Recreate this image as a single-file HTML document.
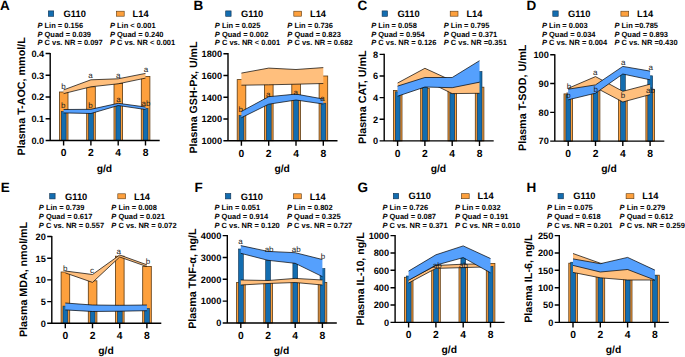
<!DOCTYPE html><html><head><meta charset="utf-8"><style>html,body{margin:0;padding:0;background:#fff;}svg{display:block;}</style></head><body>
<svg width="685" height="357" viewBox="0 0 685 357" text-rendering="geometricPrecision" font-family='"Liberation Sans", sans-serif' fill="#000">
<rect width="685" height="357" fill="#fff"/>
<rect x="48.30" y="10.90" width="5.4" height="5.4" fill="#136DB0" stroke="#0E2F4F" stroke-width="0.6"/>
<text x="63.60" y="16.90" font-size="9.3" text-anchor="start" font-weight="bold" >G110</text>
<rect x="116.40" y="11.20" width="7.8" height="5" fill="#FDA03D" stroke="#5A3810" stroke-width="0.6"/>
<text x="132.60" y="16.90" font-size="9.3" text-anchor="start" font-weight="bold" >L14</text>
<text x="37.40" y="27.80" font-size="7.5" font-weight="bold"><tspan font-style="italic">P</tspan> Lin = 0.156</text>
<text x="37.40" y="36.50" font-size="7.5" font-weight="bold"><tspan font-style="italic">P</tspan> Quad = 0.039</text>
<text x="37.40" y="45.20" font-size="7.5" font-weight="bold"><tspan font-style="italic">P</tspan> C vs. NR = 0.097</text>
<text x="109.90" y="27.80" font-size="7.5" font-weight="bold"><tspan font-style="italic">P</tspan> Lin &lt; 0.001</text>
<text x="109.90" y="36.50" font-size="7.5" font-weight="bold"><tspan font-style="italic">P</tspan> Quad = 0.240</text>
<text x="109.90" y="45.20" font-size="7.5" font-weight="bold"><tspan font-style="italic">P</tspan> C vs. NR &lt; 0.001</text>
<text x="0.00" y="10.00" font-size="13.5" text-anchor="start" font-weight="bold" >A</text>
<rect x="59.40" y="92.00" width="8.6" height="48.50" fill="#FDA03D" stroke="#5A3810" stroke-width="0.8"/>
<rect x="86.70" y="86.80" width="8.6" height="53.70" fill="#FDA03D" stroke="#5A3810" stroke-width="0.8"/>
<rect x="114.00" y="83.50" width="8.6" height="57.00" fill="#FDA03D" stroke="#5A3810" stroke-width="0.8"/>
<rect x="141.30" y="76.40" width="8.6" height="64.10" fill="#FDA03D" stroke="#5A3810" stroke-width="0.8"/>
<rect x="61.30" y="111.50" width="4.8" height="29.00" fill="#136DB0" stroke="#0E2F4F" stroke-width="0.6"/>
<rect x="88.60" y="112.00" width="4.8" height="28.50" fill="#136DB0" stroke="#0E2F4F" stroke-width="0.6"/>
<rect x="115.90" y="104.30" width="4.8" height="36.20" fill="#136DB0" stroke="#0E2F4F" stroke-width="0.6"/>
<rect x="143.20" y="108.50" width="4.8" height="32.00" fill="#136DB0" stroke="#0E2F4F" stroke-width="0.6"/>
<polygon points="63.60,89.90 90.90,79.80 118.20,78.80 145.50,73.40 145.50,78.10 118.20,83.80 90.90,86.80 63.60,93.60" fill="#FFBF7D" stroke="none"/>
<path d="M63.60,89.90 L90.90,79.80 L118.20,78.80 L145.50,73.40" fill="none" stroke="#000" stroke-width="0.7"/>
<path d="M63.60,93.60 L90.90,86.80 L118.20,83.80 L145.50,78.10" fill="none" stroke="#000" stroke-width="0.7"/>
<polygon points="63.60,109.50 90.90,109.30 118.20,103.30 145.50,107.00 145.50,109.50 118.20,105.50 90.90,113.50 63.60,112.90" fill="#55A0FD" stroke="none"/>
<path d="M63.60,109.50 L90.90,109.30 L118.20,103.30 L145.50,107.00" fill="none" stroke="#000" stroke-width="0.7"/>
<path d="M63.60,112.90 L90.90,113.50 L118.20,105.50 L145.50,109.50" fill="none" stroke="#000" stroke-width="0.7"/>
<text x="63.60" y="88.70" font-size="8" text-anchor="middle" font-weight="normal" fill="#1a1a1a">b</text>
<text x="90.60" y="78.00" font-size="8" text-anchor="middle" font-weight="normal" fill="#1a1a1a">a</text>
<text x="118.20" y="77.50" font-size="8" text-anchor="middle" font-weight="normal" fill="#1a1a1a">a</text>
<text x="146.00" y="71.50" font-size="8" text-anchor="middle" font-weight="normal" fill="#1a1a1a">a</text>
<text x="63.20" y="108.00" font-size="8" text-anchor="middle" font-weight="normal" fill="#1a1a1a">b</text>
<text x="90.60" y="107.50" font-size="8" text-anchor="middle" font-weight="normal" fill="#1a1a1a">b</text>
<text x="118.40" y="102.00" font-size="8" text-anchor="middle" font-weight="normal" fill="#1a1a1a">a</text>
<text x="146.00" y="105.50" font-size="8" text-anchor="middle" font-weight="normal" fill="#1a1a1a">ab</text>
<g stroke="#000" stroke-width="1.4" fill="none" stroke-linecap="butt">
<path d="M50.20,52.90V140.50M45.60,140.50H159.70"/>
<path d="M45.60,118.75H50.20M45.60,97.00H50.20M45.60,75.25H50.20M45.60,53.50H50.20M63.60,140.50V145.50M90.90,140.50V145.50M118.20,140.50V145.50M145.50,140.50V145.50"/>
</g>
<text x="44.20" y="143.80" font-size="9.2" text-anchor="end" font-weight="bold" >0.0</text>
<text x="44.20" y="122.05" font-size="9.2" text-anchor="end" font-weight="bold" >0.1</text>
<text x="44.20" y="100.30" font-size="9.2" text-anchor="end" font-weight="bold" >0.2</text>
<text x="44.20" y="78.55" font-size="9.2" text-anchor="end" font-weight="bold" >0.3</text>
<text x="44.20" y="56.80" font-size="9.2" text-anchor="end" font-weight="bold" >0.4</text>
<text x="63.60" y="156.30" font-size="10.3" text-anchor="middle" font-weight="bold" >0</text>
<text x="90.90" y="156.30" font-size="10.3" text-anchor="middle" font-weight="bold" >2</text>
<text x="118.20" y="156.30" font-size="10.3" text-anchor="middle" font-weight="bold" >4</text>
<text x="145.50" y="156.30" font-size="10.3" text-anchor="middle" font-weight="bold" >8</text>
<text x="104.40" y="171.50" font-size="10.3" text-anchor="middle" font-weight="bold" >g/d</text>
<text transform="translate(24.60,155.50) rotate(-90)" x="0" y="0" font-size="10.75" font-weight="bold" text-anchor="start">Plasma T-AOC, mmol/L</text>
<rect x="225.70" y="10.90" width="5.4" height="5.4" fill="#136DB0" stroke="#0E2F4F" stroke-width="0.6"/>
<text x="241.00" y="16.90" font-size="9.3" text-anchor="start" font-weight="bold" >G110</text>
<rect x="293.80" y="11.20" width="7.8" height="5" fill="#FDA03D" stroke="#5A3810" stroke-width="0.6"/>
<text x="310.00" y="16.90" font-size="9.3" text-anchor="start" font-weight="bold" >L14</text>
<text x="214.80" y="27.80" font-size="7.5" font-weight="bold"><tspan font-style="italic">P</tspan> Lin = 0.025</text>
<text x="214.80" y="36.50" font-size="7.5" font-weight="bold"><tspan font-style="italic">P</tspan> Quad = 0.002</text>
<text x="214.80" y="45.20" font-size="7.5" font-weight="bold"><tspan font-style="italic">P</tspan> C vs. NR &lt; 0.001</text>
<text x="287.30" y="27.80" font-size="7.5" font-weight="bold"><tspan font-style="italic">P</tspan> Lin = 0.736</text>
<text x="287.30" y="36.50" font-size="7.5" font-weight="bold"><tspan font-style="italic">P</tspan> Quad = 0.823</text>
<text x="287.30" y="45.20" font-size="7.5" font-weight="bold"><tspan font-style="italic">P</tspan> C vs. NR = 0.682</text>
<text x="193.40" y="10.00" font-size="13.5" text-anchor="start" font-weight="bold" >B</text>
<rect x="237.20" y="79.60" width="8.6" height="61.10" fill="#FDA03D" stroke="#5A3810" stroke-width="0.8"/>
<rect x="264.50" y="80.00" width="8.6" height="60.70" fill="#FDA03D" stroke="#5A3810" stroke-width="0.8"/>
<rect x="291.80" y="80.00" width="8.6" height="60.70" fill="#FDA03D" stroke="#5A3810" stroke-width="0.8"/>
<rect x="319.10" y="76.00" width="8.6" height="64.70" fill="#FDA03D" stroke="#5A3810" stroke-width="0.8"/>
<rect x="239.10" y="115.60" width="4.8" height="25.10" fill="#136DB0" stroke="#0E2F4F" stroke-width="0.6"/>
<rect x="266.40" y="100.00" width="4.8" height="40.70" fill="#136DB0" stroke="#0E2F4F" stroke-width="0.6"/>
<rect x="293.70" y="97.00" width="4.8" height="43.70" fill="#136DB0" stroke="#0E2F4F" stroke-width="0.6"/>
<rect x="321.00" y="103.20" width="4.8" height="37.50" fill="#136DB0" stroke="#0E2F4F" stroke-width="0.6"/>
<polygon points="241.40,73.10 268.70,68.10 296.00,69.50 323.30,67.60 323.30,83.50 296.00,84.20 268.70,84.80 241.40,85.20" fill="#FFBF7D" stroke="none"/>
<path d="M241.40,73.10 L268.70,68.10 L296.00,69.50 L323.30,67.60" fill="none" stroke="#000" stroke-width="0.7"/>
<path d="M241.40,85.20 L268.70,84.80 L296.00,84.20 L323.30,83.50" fill="none" stroke="#000" stroke-width="0.7"/>
<polygon points="241.40,111.40 268.70,96.70 296.00,94.10 323.30,99.00 323.30,104.00 296.00,100.00 268.70,104.20 241.40,117.70" fill="#55A0FD" stroke="none"/>
<path d="M241.40,111.40 L268.70,96.70 L296.00,94.10 L323.30,99.00" fill="none" stroke="#000" stroke-width="0.7"/>
<path d="M241.40,117.70 L268.70,104.20 L296.00,100.00 L323.30,104.00" fill="none" stroke="#000" stroke-width="0.7"/>
<text x="240.70" y="111.50" font-size="8" text-anchor="middle" font-weight="normal" fill="#1a1a1a">b</text>
<text x="268.20" y="96.50" font-size="8" text-anchor="middle" font-weight="normal" fill="#1a1a1a">a</text>
<text x="295.80" y="95.00" font-size="8" text-anchor="middle" font-weight="normal" fill="#1a1a1a">a</text>
<text x="322.60" y="100.50" font-size="8" text-anchor="middle" font-weight="normal" fill="#1a1a1a">a</text>
<g stroke="#000" stroke-width="1.4" fill="none" stroke-linecap="butt">
<path d="M228.00,53.10V140.70M223.40,140.70H337.50"/>
<path d="M223.40,118.95H228.00M223.40,97.20H228.00M223.40,75.45H228.00M223.40,53.70H228.00M241.40,140.70V145.70M268.70,140.70V145.70M296.00,140.70V145.70M323.30,140.70V145.70"/>
</g>
<text x="222.00" y="144.00" font-size="9.2" text-anchor="end" font-weight="bold" >1000</text>
<text x="222.00" y="122.25" font-size="9.2" text-anchor="end" font-weight="bold" >1200</text>
<text x="222.00" y="100.50" font-size="9.2" text-anchor="end" font-weight="bold" >1400</text>
<text x="222.00" y="78.75" font-size="9.2" text-anchor="end" font-weight="bold" >1600</text>
<text x="222.00" y="57.00" font-size="9.2" text-anchor="end" font-weight="bold" >1800</text>
<text x="241.40" y="156.50" font-size="10.3" text-anchor="middle" font-weight="bold" >0</text>
<text x="268.70" y="156.50" font-size="10.3" text-anchor="middle" font-weight="bold" >2</text>
<text x="296.00" y="156.50" font-size="10.3" text-anchor="middle" font-weight="bold" >4</text>
<text x="323.30" y="156.50" font-size="10.3" text-anchor="middle" font-weight="bold" >8</text>
<text x="282.20" y="171.70" font-size="10.3" text-anchor="middle" font-weight="bold" >g/d</text>
<text transform="translate(197.10,153.50) rotate(-90)" x="0" y="0" font-size="10.62" font-weight="bold" text-anchor="start">Plasma GSH-Px, U/mL</text>
<rect x="382.10" y="10.90" width="5.4" height="5.4" fill="#136DB0" stroke="#0E2F4F" stroke-width="0.6"/>
<text x="397.40" y="16.90" font-size="9.3" text-anchor="start" font-weight="bold" >G110</text>
<rect x="450.20" y="11.20" width="7.8" height="5" fill="#FDA03D" stroke="#5A3810" stroke-width="0.6"/>
<text x="466.40" y="16.90" font-size="9.3" text-anchor="start" font-weight="bold" >L14</text>
<text x="371.20" y="27.80" font-size="7.5" font-weight="bold"><tspan font-style="italic">P</tspan> Lin = 0.058</text>
<text x="371.20" y="36.50" font-size="7.5" font-weight="bold"><tspan font-style="italic">P</tspan> Quad = 0.954</text>
<text x="371.20" y="45.20" font-size="7.5" font-weight="bold"><tspan font-style="italic">P</tspan> C vs. NR = 0.126</text>
<text x="443.70" y="27.80" font-size="7.5" font-weight="bold"><tspan font-style="italic">P</tspan> Lin = 0.795</text>
<text x="443.70" y="36.50" font-size="7.5" font-weight="bold"><tspan font-style="italic">P</tspan> Quad = 0.371</text>
<text x="443.70" y="45.20" font-size="7.5" font-weight="bold"><tspan font-style="italic">P</tspan> C vs. NR =0.351</text>
<text x="357.40" y="10.00" font-size="13.5" text-anchor="start" font-weight="bold" >C</text>
<rect x="393.40" y="90.40" width="8.6" height="50.50" fill="#FDA03D" stroke="#5A3810" stroke-width="0.8"/>
<rect x="420.70" y="88.30" width="8.6" height="52.60" fill="#FDA03D" stroke="#5A3810" stroke-width="0.8"/>
<rect x="448.00" y="91.00" width="8.6" height="49.90" fill="#FDA03D" stroke="#5A3810" stroke-width="0.8"/>
<rect x="475.30" y="87.20" width="8.6" height="53.70" fill="#FDA03D" stroke="#5A3810" stroke-width="0.8"/>
<rect x="395.30" y="91.80" width="4.8" height="49.10" fill="#136DB0" stroke="#0E2F4F" stroke-width="0.6"/>
<rect x="422.60" y="87.20" width="4.8" height="53.70" fill="#136DB0" stroke="#0E2F4F" stroke-width="0.6"/>
<rect x="449.90" y="93.60" width="4.8" height="47.30" fill="#136DB0" stroke="#0E2F4F" stroke-width="0.6"/>
<rect x="477.20" y="71.50" width="4.8" height="69.40" fill="#136DB0" stroke="#0E2F4F" stroke-width="0.6"/>
<polygon points="397.60,83.00 424.90,68.30 452.20,80.80 479.50,82.00 479.50,93.30 452.20,93.60 424.90,80.20 397.60,92.00" fill="#FFBF7D" stroke="none"/>
<path d="M397.60,83.00 L424.90,68.30 L452.20,80.80 L479.50,82.00" fill="none" stroke="#000" stroke-width="0.7"/>
<path d="M397.60,92.00 L424.90,80.20 L452.20,93.60 L479.50,93.30" fill="none" stroke="#000" stroke-width="0.7"/>
<polygon points="397.60,86.10 424.90,77.50 452.20,77.50 479.50,60.70 479.50,82.20 452.20,87.70 424.90,87.00 397.60,96.20" fill="#55A0FD" stroke="none"/>
<path d="M397.60,86.10 L424.90,77.50 L452.20,77.50 L479.50,60.70" fill="none" stroke="#000" stroke-width="0.7"/>
<path d="M397.60,96.20 L424.90,87.00 L452.20,87.70 L479.50,82.20" fill="none" stroke="#000" stroke-width="0.7"/>
<g stroke="#000" stroke-width="1.4" fill="none" stroke-linecap="butt">
<path d="M384.20,53.80V140.90M379.60,140.90H493.70"/>
<path d="M379.60,119.28H384.20M379.60,97.65H384.20M379.60,76.03H384.20M379.60,54.40H384.20M397.60,140.90V145.90M424.90,140.90V145.90M452.20,140.90V145.90M479.50,140.90V145.90"/>
</g>
<text x="378.20" y="144.20" font-size="9.2" text-anchor="end" font-weight="bold" >0</text>
<text x="378.20" y="122.58" font-size="9.2" text-anchor="end" font-weight="bold" >2</text>
<text x="378.20" y="100.95" font-size="9.2" text-anchor="end" font-weight="bold" >4</text>
<text x="378.20" y="79.33" font-size="9.2" text-anchor="end" font-weight="bold" >6</text>
<text x="378.20" y="57.70" font-size="9.2" text-anchor="end" font-weight="bold" >8</text>
<text x="397.60" y="156.70" font-size="10.3" text-anchor="middle" font-weight="bold" >0</text>
<text x="424.90" y="156.70" font-size="10.3" text-anchor="middle" font-weight="bold" >2</text>
<text x="452.20" y="156.70" font-size="10.3" text-anchor="middle" font-weight="bold" >4</text>
<text x="479.50" y="156.70" font-size="10.3" text-anchor="middle" font-weight="bold" >8</text>
<text x="438.40" y="171.90" font-size="10.3" text-anchor="middle" font-weight="bold" >g/d</text>
<text transform="translate(365.50,144.00) rotate(-90)" x="0" y="0" font-size="10.75" font-weight="bold" text-anchor="start">Plasma CAT, U/mL</text>
<rect x="552.80" y="10.90" width="5.4" height="5.4" fill="#136DB0" stroke="#0E2F4F" stroke-width="0.6"/>
<text x="568.10" y="16.90" font-size="9.3" text-anchor="start" font-weight="bold" >G110</text>
<rect x="620.90" y="11.20" width="7.8" height="5" fill="#FDA03D" stroke="#5A3810" stroke-width="0.6"/>
<text x="637.10" y="16.90" font-size="9.3" text-anchor="start" font-weight="bold" >L14</text>
<text x="541.90" y="27.80" font-size="7.5" font-weight="bold"><tspan font-style="italic">P</tspan> Lin = 0.003</text>
<text x="541.90" y="36.50" font-size="7.5" font-weight="bold"><tspan font-style="italic">P</tspan> Quad = 0.034</text>
<text x="541.90" y="45.20" font-size="7.5" font-weight="bold"><tspan font-style="italic">P</tspan> C vs. NR = 0.004</text>
<text x="614.40" y="27.80" font-size="7.5" font-weight="bold"><tspan font-style="italic">P</tspan> Lin =0.785</text>
<text x="614.40" y="36.50" font-size="7.5" font-weight="bold"><tspan font-style="italic">P</tspan> Quad = 0.893</text>
<text x="614.40" y="45.20" font-size="7.5" font-weight="bold"><tspan font-style="italic">P</tspan> C vs. NR =0.430</text>
<text x="526.60" y="10.00" font-size="13.5" text-anchor="start" font-weight="bold" >D</text>
<rect x="564.00" y="93.90" width="8.6" height="47.20" fill="#FDA03D" stroke="#5A3810" stroke-width="0.8"/>
<rect x="591.30" y="82.00" width="8.6" height="59.10" fill="#FDA03D" stroke="#5A3810" stroke-width="0.8"/>
<rect x="618.60" y="96.00" width="8.6" height="45.10" fill="#FDA03D" stroke="#5A3810" stroke-width="0.8"/>
<rect x="645.90" y="89.30" width="8.6" height="51.80" fill="#FDA03D" stroke="#5A3810" stroke-width="0.8"/>
<rect x="565.90" y="94.70" width="4.8" height="46.40" fill="#136DB0" stroke="#0E2F4F" stroke-width="0.6"/>
<rect x="593.20" y="89.00" width="4.8" height="52.10" fill="#136DB0" stroke="#0E2F4F" stroke-width="0.6"/>
<rect x="620.50" y="70.20" width="4.8" height="70.90" fill="#136DB0" stroke="#0E2F4F" stroke-width="0.6"/>
<rect x="647.80" y="75.80" width="4.8" height="65.30" fill="#136DB0" stroke="#0E2F4F" stroke-width="0.6"/>
<polygon points="568.20,88.30 595.50,76.60 622.80,91.30 650.10,84.20 650.10,94.60 622.80,102.00 595.50,87.50 568.20,98.00" fill="#FFBF7D" stroke="none"/>
<path d="M568.20,88.30 L595.50,76.60 L622.80,91.30 L650.10,84.20" fill="none" stroke="#000" stroke-width="0.7"/>
<path d="M568.20,98.00 L595.50,87.50 L622.80,102.00 L650.10,94.60" fill="none" stroke="#000" stroke-width="0.7"/>
<polygon points="568.20,89.20 595.50,84.90 622.80,66.40 650.10,71.10 650.10,79.80 622.80,74.00 595.50,93.20 568.20,99.80" fill="#55A0FD" stroke="none"/>
<path d="M568.20,89.20 L595.50,84.90 L622.80,66.40 L650.10,71.10" fill="none" stroke="#000" stroke-width="0.7"/>
<path d="M568.20,99.80 L595.50,93.20 L622.80,74.00 L650.10,79.80" fill="none" stroke="#000" stroke-width="0.7"/>
<text x="568.90" y="89.30" font-size="8" text-anchor="middle" font-weight="normal" fill="#1a1a1a">b</text>
<text x="568.60" y="98.00" font-size="8" text-anchor="middle" font-weight="normal" fill="#1a1a1a">b</text>
<text x="595.20" y="74.90" font-size="8" text-anchor="middle" font-weight="normal" fill="#1a1a1a">a</text>
<text x="595.70" y="92.40" font-size="8" text-anchor="middle" font-weight="normal" fill="#1a1a1a">b</text>
<text x="623.30" y="65.00" font-size="8" text-anchor="middle" font-weight="normal" fill="#1a1a1a">a</text>
<text x="623.00" y="98.40" font-size="8" text-anchor="middle" font-weight="normal" fill="#1a1a1a">b</text>
<text x="650.80" y="70.40" font-size="8" text-anchor="middle" font-weight="normal" fill="#1a1a1a">a</text>
<text x="650.50" y="92.90" font-size="8" text-anchor="middle" font-weight="normal" fill="#1a1a1a">ab</text>
<g stroke="#000" stroke-width="1.4" fill="none" stroke-linecap="butt">
<path d="M554.80,54.20V141.10M550.20,141.10H664.30"/>
<path d="M550.20,112.33H554.80M550.20,83.57H554.80M550.20,54.80H554.80M568.20,141.10V146.10M595.50,141.10V146.10M622.80,141.10V146.10M650.10,141.10V146.10"/>
</g>
<text x="548.80" y="144.40" font-size="9.2" text-anchor="end" font-weight="bold" >70</text>
<text x="548.80" y="115.63" font-size="9.2" text-anchor="end" font-weight="bold" >80</text>
<text x="548.80" y="86.87" font-size="9.2" text-anchor="end" font-weight="bold" >90</text>
<text x="548.80" y="58.10" font-size="9.2" text-anchor="end" font-weight="bold" >100</text>
<text x="568.20" y="156.90" font-size="10.3" text-anchor="middle" font-weight="bold" >0</text>
<text x="595.50" y="156.90" font-size="10.3" text-anchor="middle" font-weight="bold" >2</text>
<text x="622.80" y="156.90" font-size="10.3" text-anchor="middle" font-weight="bold" >4</text>
<text x="650.10" y="156.90" font-size="10.3" text-anchor="middle" font-weight="bold" >8</text>
<text x="609.00" y="172.10" font-size="10.3" text-anchor="middle" font-weight="bold" >g/d</text>
<text transform="translate(526.00,151.00) rotate(-90)" x="0" y="0" font-size="10.75" font-weight="bold" text-anchor="start">Plasma T-SOD, U/mL</text>
<rect x="49.70" y="193.50" width="5.4" height="5.4" fill="#136DB0" stroke="#0E2F4F" stroke-width="0.6"/>
<text x="65.00" y="199.50" font-size="9.3" text-anchor="start" font-weight="bold" >G110</text>
<rect x="117.80" y="193.80" width="7.8" height="5" fill="#FDA03D" stroke="#5A3810" stroke-width="0.6"/>
<text x="134.00" y="199.50" font-size="9.3" text-anchor="start" font-weight="bold" >L14</text>
<text x="38.80" y="210.40" font-size="7.5" font-weight="bold"><tspan font-style="italic">P</tspan> Lin = 0.739</text>
<text x="38.80" y="219.10" font-size="7.5" font-weight="bold"><tspan font-style="italic">P</tspan> Quad = 0.617</text>
<text x="38.80" y="227.80" font-size="7.5" font-weight="bold"><tspan font-style="italic">P</tspan> C vs. NR = 0.557</text>
<text x="111.30" y="210.40" font-size="7.5" font-weight="bold"><tspan font-style="italic">P</tspan> Lin = 0.008</text>
<text x="111.30" y="219.10" font-size="7.5" font-weight="bold"><tspan font-style="italic">P</tspan> Quad = 0.021</text>
<text x="111.30" y="227.80" font-size="7.5" font-weight="bold"><tspan font-style="italic">P</tspan> C vs. NR = 0.072</text>
<text x="0.80" y="192.00" font-size="13.5" text-anchor="start" font-weight="bold" >E</text>
<rect x="61.10" y="272.00" width="8.6" height="51.30" fill="#FDA03D" stroke="#5A3810" stroke-width="0.8"/>
<rect x="88.30" y="280.80" width="8.6" height="42.50" fill="#FDA03D" stroke="#5A3810" stroke-width="0.8"/>
<rect x="115.50" y="256.20" width="8.6" height="67.10" fill="#FDA03D" stroke="#5A3810" stroke-width="0.8"/>
<rect x="142.70" y="266.40" width="8.6" height="56.90" fill="#FDA03D" stroke="#5A3810" stroke-width="0.8"/>
<rect x="63.00" y="306.10" width="4.8" height="17.20" fill="#136DB0" stroke="#0E2F4F" stroke-width="0.6"/>
<rect x="90.20" y="311.40" width="4.8" height="11.90" fill="#136DB0" stroke="#0E2F4F" stroke-width="0.6"/>
<rect x="117.40" y="311.00" width="4.8" height="12.30" fill="#136DB0" stroke="#0E2F4F" stroke-width="0.6"/>
<rect x="144.60" y="308.40" width="4.8" height="14.90" fill="#136DB0" stroke="#0E2F4F" stroke-width="0.6"/>
<polygon points="65.30,271.00 92.50,274.50 119.70,255.00 146.90,264.80 146.90,266.60 119.70,257.00 92.50,282.40 65.30,272.90" fill="#FFBF7D" stroke="none"/>
<path d="M65.30,271.00 L92.50,274.50 L119.70,255.00 L146.90,264.80" fill="none" stroke="#000" stroke-width="0.7"/>
<path d="M65.30,272.90 L92.50,282.40 L119.70,257.00 L146.90,266.60" fill="none" stroke="#000" stroke-width="0.7"/>
<polygon points="65.30,303.00 92.50,305.00 119.70,305.30 146.90,305.00 146.90,310.70 119.70,311.20 92.50,311.50 65.30,309.90" fill="#55A0FD" stroke="none"/>
<path d="M65.30,303.00 L92.50,305.00 L119.70,305.30 L146.90,305.00" fill="none" stroke="#000" stroke-width="0.7"/>
<path d="M65.30,309.90 L92.50,311.50 L119.70,311.20 L146.90,310.70" fill="none" stroke="#000" stroke-width="0.7"/>
<text x="65.20" y="270.50" font-size="8" text-anchor="middle" font-weight="normal" fill="#1a1a1a">b</text>
<text x="91.90" y="272.50" font-size="8" text-anchor="middle" font-weight="normal" fill="#1a1a1a">c</text>
<text x="118.80" y="254.00" font-size="8" text-anchor="middle" font-weight="normal" fill="#1a1a1a">a</text>
<text x="147.90" y="264.00" font-size="8" text-anchor="middle" font-weight="normal" fill="#1a1a1a">b</text>
<g stroke="#000" stroke-width="1.4" fill="none" stroke-linecap="butt">
<path d="M51.80,235.90V323.30M47.20,323.30H161.30"/>
<path d="M47.20,301.60H51.80M47.20,279.90H51.80M47.20,258.20H51.80M47.20,236.50H51.80M65.30,323.30V328.30M92.50,323.30V328.30M119.70,323.30V328.30M146.90,323.30V328.30"/>
</g>
<text x="45.80" y="326.60" font-size="9.2" text-anchor="end" font-weight="bold" >0</text>
<text x="45.80" y="304.90" font-size="9.2" text-anchor="end" font-weight="bold" >5</text>
<text x="45.80" y="283.20" font-size="9.2" text-anchor="end" font-weight="bold" >10</text>
<text x="45.80" y="261.50" font-size="9.2" text-anchor="end" font-weight="bold" >15</text>
<text x="45.80" y="239.80" font-size="9.2" text-anchor="end" font-weight="bold" >20</text>
<text x="65.30" y="339.10" font-size="10.3" text-anchor="middle" font-weight="bold" >0</text>
<text x="92.50" y="339.10" font-size="10.3" text-anchor="middle" font-weight="bold" >2</text>
<text x="119.70" y="339.10" font-size="10.3" text-anchor="middle" font-weight="bold" >4</text>
<text x="146.90" y="339.10" font-size="10.3" text-anchor="middle" font-weight="bold" >8</text>
<text x="106.00" y="354.30" font-size="10.3" text-anchor="middle" font-weight="bold" >g/d</text>
<text transform="translate(27.00,337.10) rotate(-90)" x="0" y="0" font-size="10.7" font-weight="bold" text-anchor="start">Plasma MDA, nmol/mL</text>
<rect x="225.40" y="193.50" width="5.4" height="5.4" fill="#136DB0" stroke="#0E2F4F" stroke-width="0.6"/>
<text x="240.70" y="199.50" font-size="9.3" text-anchor="start" font-weight="bold" >G110</text>
<rect x="293.50" y="193.80" width="7.8" height="5" fill="#FDA03D" stroke="#5A3810" stroke-width="0.6"/>
<text x="309.70" y="199.50" font-size="9.3" text-anchor="start" font-weight="bold" >L14</text>
<text x="214.50" y="210.40" font-size="7.5" font-weight="bold"><tspan font-style="italic">P</tspan> Lin = 0.051</text>
<text x="214.50" y="219.10" font-size="7.5" font-weight="bold"><tspan font-style="italic">P</tspan> Quad = 0.914</text>
<text x="214.50" y="227.80" font-size="7.5" font-weight="bold"><tspan font-style="italic">P</tspan> C vs. NR = 0.120</text>
<text x="287.00" y="210.40" font-size="7.5" font-weight="bold"><tspan font-style="italic">P</tspan> Lin = 0.802</text>
<text x="287.00" y="219.10" font-size="7.5" font-weight="bold"><tspan font-style="italic">P</tspan> Quad = 0.325</text>
<text x="287.00" y="227.80" font-size="7.5" font-weight="bold"><tspan font-style="italic">P</tspan> C vs. NR = 0.727</text>
<text x="194.40" y="192.30" font-size="13.5" text-anchor="start" font-weight="bold" >F</text>
<rect x="236.60" y="282.40" width="8.6" height="40.60" fill="#FDA03D" stroke="#5A3810" stroke-width="0.8"/>
<rect x="263.80" y="281.50" width="8.6" height="41.50" fill="#FDA03D" stroke="#5A3810" stroke-width="0.8"/>
<rect x="291.00" y="280.00" width="8.6" height="43.00" fill="#FDA03D" stroke="#5A3810" stroke-width="0.8"/>
<rect x="318.20" y="282.40" width="8.6" height="40.60" fill="#FDA03D" stroke="#5A3810" stroke-width="0.8"/>
<rect x="238.50" y="249.00" width="4.8" height="74.00" fill="#136DB0" stroke="#0E2F4F" stroke-width="0.6"/>
<rect x="265.70" y="260.30" width="4.8" height="62.70" fill="#136DB0" stroke="#0E2F4F" stroke-width="0.6"/>
<rect x="292.90" y="263.30" width="4.8" height="59.70" fill="#136DB0" stroke="#0E2F4F" stroke-width="0.6"/>
<rect x="320.10" y="268.60" width="4.8" height="54.40" fill="#136DB0" stroke="#0E2F4F" stroke-width="0.6"/>
<polygon points="240.80,280.00 268.00,280.50 295.20,278.40 322.40,280.00 322.40,285.00 295.20,282.50 268.00,283.50 240.80,285.00" fill="#FFBF7D" stroke="none"/>
<path d="M240.80,280.00 L268.00,280.50 L295.20,278.40 L322.40,280.00" fill="none" stroke="#000" stroke-width="0.7"/>
<path d="M240.80,285.00 L268.00,283.50 L295.20,282.50 L322.40,285.00" fill="none" stroke="#000" stroke-width="0.7"/>
<polygon points="240.80,245.60 268.00,251.40 295.20,252.70 322.40,259.50 322.40,276.60 295.20,263.30 268.00,260.30 240.80,253.30" fill="#55A0FD" stroke="none"/>
<path d="M240.80,245.60 L268.00,251.40 L295.20,252.70 L322.40,259.50" fill="none" stroke="#000" stroke-width="0.7"/>
<path d="M240.80,253.30 L268.00,260.30 L295.20,263.30 L322.40,276.60" fill="none" stroke="#000" stroke-width="0.7"/>
<text x="240.60" y="244.20" font-size="8" text-anchor="middle" font-weight="normal" fill="#1a1a1a">a</text>
<text x="269.10" y="252.00" font-size="8" text-anchor="middle" font-weight="normal" fill="#1a1a1a">ab</text>
<text x="296.20" y="252.00" font-size="8" text-anchor="middle" font-weight="normal" fill="#1a1a1a">ab</text>
<text x="322.90" y="258.50" font-size="8" text-anchor="middle" font-weight="normal" fill="#1a1a1a">b</text>
<g stroke="#000" stroke-width="1.4" fill="none" stroke-linecap="butt">
<path d="M227.30,235.00V323.00M222.70,323.00H336.80"/>
<path d="M222.70,301.15H227.30M222.70,279.30H227.30M222.70,257.45H227.30M222.70,235.60H227.30M240.80,323.00V328.00M268.00,323.00V328.00M295.20,323.00V328.00M322.40,323.00V328.00"/>
</g>
<text x="221.30" y="326.30" font-size="9.2" text-anchor="end" font-weight="bold" >0</text>
<text x="221.30" y="304.45" font-size="9.2" text-anchor="end" font-weight="bold" >1000</text>
<text x="221.30" y="282.60" font-size="9.2" text-anchor="end" font-weight="bold" >2000</text>
<text x="221.30" y="260.75" font-size="9.2" text-anchor="end" font-weight="bold" >3000</text>
<text x="221.30" y="238.90" font-size="9.2" text-anchor="end" font-weight="bold" >4000</text>
<text x="240.80" y="338.80" font-size="10.3" text-anchor="middle" font-weight="bold" >0</text>
<text x="268.00" y="338.80" font-size="10.3" text-anchor="middle" font-weight="bold" >2</text>
<text x="295.20" y="338.80" font-size="10.3" text-anchor="middle" font-weight="bold" >4</text>
<text x="322.40" y="338.80" font-size="10.3" text-anchor="middle" font-weight="bold" >8</text>
<text x="281.50" y="354.00" font-size="10.3" text-anchor="middle" font-weight="bold" >g/d</text>
<text transform="translate(196.00,328.80) rotate(-90)" x="0" y="0" font-size="10.75" font-weight="bold" text-anchor="start">Plasma TNF-α, ng/L</text>
<rect x="393.30" y="193.40" width="5.4" height="5.4" fill="#136DB0" stroke="#0E2F4F" stroke-width="0.6"/>
<text x="408.60" y="199.40" font-size="9.3" text-anchor="start" font-weight="bold" >G110</text>
<rect x="461.40" y="193.70" width="7.8" height="5" fill="#FDA03D" stroke="#5A3810" stroke-width="0.6"/>
<text x="477.60" y="199.40" font-size="9.3" text-anchor="start" font-weight="bold" >L14</text>
<text x="382.40" y="210.30" font-size="7.5" font-weight="bold"><tspan font-style="italic">P</tspan> Lin = 0.726</text>
<text x="382.40" y="219.00" font-size="7.5" font-weight="bold"><tspan font-style="italic">P</tspan> Quad = 0.087</text>
<text x="382.40" y="227.70" font-size="7.5" font-weight="bold"><tspan font-style="italic">P</tspan> C vs. NR = 0.371</text>
<text x="454.90" y="210.30" font-size="7.5" font-weight="bold"><tspan font-style="italic">P</tspan> Lin = 0.032</text>
<text x="454.90" y="219.00" font-size="7.5" font-weight="bold"><tspan font-style="italic">P</tspan> Quad = 0.191</text>
<text x="454.90" y="227.70" font-size="7.5" font-weight="bold"><tspan font-style="italic">P</tspan> C vs. NR = 0.010</text>
<text x="357.60" y="192.00" font-size="13.5" text-anchor="start" font-weight="bold" >G</text>
<rect x="404.40" y="277.30" width="8.6" height="45.10" fill="#FDA03D" stroke="#5A3810" stroke-width="0.8"/>
<rect x="431.70" y="267.70" width="8.6" height="54.70" fill="#FDA03D" stroke="#5A3810" stroke-width="0.8"/>
<rect x="459.00" y="267.00" width="8.6" height="55.40" fill="#FDA03D" stroke="#5A3810" stroke-width="0.8"/>
<rect x="486.30" y="263.50" width="8.6" height="58.90" fill="#FDA03D" stroke="#5A3810" stroke-width="0.8"/>
<rect x="406.30" y="276.00" width="4.8" height="46.40" fill="#136DB0" stroke="#0E2F4F" stroke-width="0.6"/>
<rect x="433.60" y="265.20" width="4.8" height="57.20" fill="#136DB0" stroke="#0E2F4F" stroke-width="0.6"/>
<rect x="460.90" y="257.60" width="4.8" height="64.80" fill="#136DB0" stroke="#0E2F4F" stroke-width="0.6"/>
<rect x="488.20" y="266.30" width="4.8" height="56.10" fill="#136DB0" stroke="#0E2F4F" stroke-width="0.6"/>
<polygon points="408.60,280.00 435.90,265.50 463.20,264.20 490.50,263.80 490.50,266.80 463.20,267.60 435.90,268.40 408.60,283.00" fill="#FFBF7D" stroke="none"/>
<path d="M408.60,280.00 L435.90,265.50 L463.20,264.20 L490.50,263.80" fill="none" stroke="#000" stroke-width="0.7"/>
<path d="M408.60,283.00 L435.90,268.40 L463.20,267.60 L490.50,266.80" fill="none" stroke="#000" stroke-width="0.7"/>
<polygon points="408.60,271.10 435.90,254.80 463.20,245.90 490.50,258.50 490.50,272.80 463.20,257.60 435.90,265.20 408.60,280.30" fill="#55A0FD" stroke="none"/>
<path d="M408.60,271.10 L435.90,254.80 L463.20,245.90 L490.50,258.50" fill="none" stroke="#000" stroke-width="0.7"/>
<path d="M408.60,280.30 L435.90,265.20 L463.20,257.60 L490.50,272.80" fill="none" stroke="#000" stroke-width="0.7"/>
<text x="437.30" y="267.50" font-size="8" text-anchor="middle" font-weight="normal" fill="#1a1a1a">ab</text>
<text x="463.50" y="267.50" font-size="8" text-anchor="middle" font-weight="normal" fill="#1a1a1a">ab</text>
<g stroke="#000" stroke-width="1.4" fill="none" stroke-linecap="butt">
<path d="M395.10,235.00V322.40M390.50,322.40H504.60"/>
<path d="M390.50,305.04H395.10M390.50,287.68H395.10M390.50,270.32H395.10M390.50,252.96H395.10M390.50,235.60H395.10M408.60,322.40V327.40M435.90,322.40V327.40M463.20,322.40V327.40M490.50,322.40V327.40"/>
</g>
<text x="389.10" y="325.70" font-size="9.2" text-anchor="end" font-weight="bold" >0</text>
<text x="389.10" y="308.34" font-size="9.2" text-anchor="end" font-weight="bold" >200</text>
<text x="389.10" y="290.98" font-size="9.2" text-anchor="end" font-weight="bold" >400</text>
<text x="389.10" y="273.62" font-size="9.2" text-anchor="end" font-weight="bold" >600</text>
<text x="389.10" y="256.26" font-size="9.2" text-anchor="end" font-weight="bold" >800</text>
<text x="389.10" y="238.90" font-size="9.2" text-anchor="end" font-weight="bold" >1000</text>
<text x="408.60" y="338.20" font-size="10.3" text-anchor="middle" font-weight="bold" >0</text>
<text x="435.90" y="338.20" font-size="10.3" text-anchor="middle" font-weight="bold" >2</text>
<text x="463.20" y="338.20" font-size="10.3" text-anchor="middle" font-weight="bold" >4</text>
<text x="490.50" y="338.20" font-size="10.3" text-anchor="middle" font-weight="bold" >8</text>
<text x="449.30" y="353.40" font-size="10.3" text-anchor="middle" font-weight="bold" >g/d</text>
<text transform="translate(364.00,325.60) rotate(-90)" x="0" y="0" font-size="10.63" font-weight="bold" text-anchor="start">Plasma IL-10, ng/L</text>
<rect x="558.00" y="193.40" width="5.4" height="5.4" fill="#136DB0" stroke="#0E2F4F" stroke-width="0.6"/>
<text x="573.30" y="199.40" font-size="9.3" text-anchor="start" font-weight="bold" >G110</text>
<rect x="626.10" y="193.70" width="7.8" height="5" fill="#FDA03D" stroke="#5A3810" stroke-width="0.6"/>
<text x="642.30" y="199.40" font-size="9.3" text-anchor="start" font-weight="bold" >L14</text>
<text x="547.10" y="210.30" font-size="7.5" font-weight="bold"><tspan font-style="italic">P</tspan> Lin = 0.075</text>
<text x="547.10" y="219.00" font-size="7.5" font-weight="bold"><tspan font-style="italic">P</tspan> Quad = 0.618</text>
<text x="547.10" y="227.70" font-size="7.5" font-weight="bold"><tspan font-style="italic">P</tspan> C vs. NR = 0.201</text>
<text x="619.60" y="210.30" font-size="7.5" font-weight="bold"><tspan font-style="italic">P</tspan> Lin = 0.279</text>
<text x="619.60" y="219.00" font-size="7.5" font-weight="bold"><tspan font-style="italic">P</tspan> Quad = 0.612</text>
<text x="619.60" y="227.70" font-size="7.5" font-weight="bold"><tspan font-style="italic">P</tspan> C vs. NR = 0.259</text>
<text x="526.40" y="192.20" font-size="13.5" text-anchor="start" font-weight="bold" >H</text>
<rect x="568.80" y="263.20" width="8.6" height="59.20" fill="#FDA03D" stroke="#5A3810" stroke-width="0.8"/>
<rect x="596.10" y="275.00" width="8.6" height="47.40" fill="#FDA03D" stroke="#5A3810" stroke-width="0.8"/>
<rect x="623.40" y="275.00" width="8.6" height="47.40" fill="#FDA03D" stroke="#5A3810" stroke-width="0.8"/>
<rect x="650.70" y="275.20" width="8.6" height="47.20" fill="#FDA03D" stroke="#5A3810" stroke-width="0.8"/>
<rect x="570.70" y="262.20" width="4.8" height="60.20" fill="#136DB0" stroke="#0E2F4F" stroke-width="0.6"/>
<rect x="598.00" y="268.00" width="4.8" height="54.40" fill="#136DB0" stroke="#0E2F4F" stroke-width="0.6"/>
<rect x="625.30" y="269.80" width="4.8" height="52.60" fill="#136DB0" stroke="#0E2F4F" stroke-width="0.6"/>
<rect x="652.60" y="275.70" width="4.8" height="46.70" fill="#136DB0" stroke="#0E2F4F" stroke-width="0.6"/>
<polygon points="573.00,253.50 600.30,263.20 627.60,269.00 654.90,276.00 654.90,280.00 627.60,280.00 600.30,277.80 573.00,272.40" fill="#FFBF7D" stroke="none"/>
<path d="M573.00,253.50 L600.30,263.20 L627.60,269.00 L654.90,276.00" fill="none" stroke="#000" stroke-width="0.7"/>
<path d="M573.00,272.40 L600.30,277.80 L627.60,280.00 L654.90,280.00" fill="none" stroke="#000" stroke-width="0.7"/>
<polygon points="573.00,258.90 600.30,263.70 627.60,257.40 654.90,270.10 654.90,280.00 627.60,269.50 600.30,272.00 573.00,265.40" fill="#55A0FD" stroke="none"/>
<path d="M573.00,258.90 L600.30,263.70 L627.60,257.40 L654.90,270.10" fill="none" stroke="#000" stroke-width="0.7"/>
<path d="M573.00,265.40 L600.30,272.00 L627.60,269.50 L654.90,280.00" fill="none" stroke="#000" stroke-width="0.7"/>
<g stroke="#000" stroke-width="1.4" fill="none" stroke-linecap="butt">
<path d="M559.30,235.00V322.40M554.70,322.40H668.80"/>
<path d="M554.70,305.04H559.30M554.70,287.68H559.30M554.70,270.32H559.30M554.70,252.96H559.30M554.70,235.60H559.30M573.00,322.40V327.40M600.30,322.40V327.40M627.60,322.40V327.40M654.90,322.40V327.40"/>
</g>
<text x="553.30" y="325.70" font-size="9.2" text-anchor="end" font-weight="bold" >0</text>
<text x="553.30" y="308.34" font-size="9.2" text-anchor="end" font-weight="bold" >50</text>
<text x="553.30" y="290.98" font-size="9.2" text-anchor="end" font-weight="bold" >100</text>
<text x="553.30" y="273.62" font-size="9.2" text-anchor="end" font-weight="bold" >150</text>
<text x="553.30" y="256.26" font-size="9.2" text-anchor="end" font-weight="bold" >200</text>
<text x="553.30" y="238.90" font-size="9.2" text-anchor="end" font-weight="bold" >250</text>
<text x="573.00" y="338.20" font-size="10.3" text-anchor="middle" font-weight="bold" >0</text>
<text x="600.30" y="338.20" font-size="10.3" text-anchor="middle" font-weight="bold" >2</text>
<text x="627.60" y="338.20" font-size="10.3" text-anchor="middle" font-weight="bold" >4</text>
<text x="654.90" y="338.20" font-size="10.3" text-anchor="middle" font-weight="bold" >8</text>
<text x="613.50" y="353.40" font-size="10.3" text-anchor="middle" font-weight="bold" >g/d</text>
<text transform="translate(531.50,322.80) rotate(-90)" x="0" y="0" font-size="10.75" font-weight="bold" text-anchor="start">Plasma IL-6, ng/L</text>
</svg></body></html>
